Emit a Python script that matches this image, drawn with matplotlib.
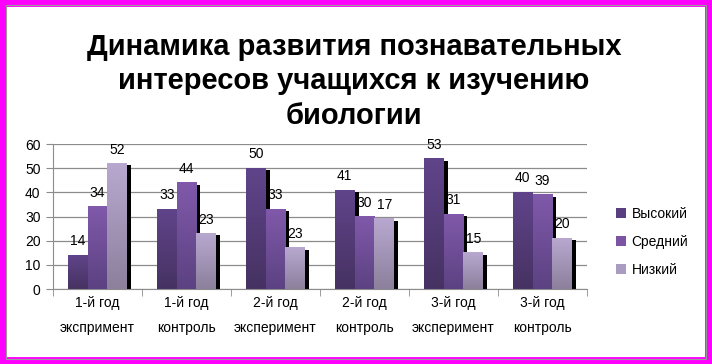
import numpy as np
import matplotlib
matplotlib.use('Agg')
import matplotlib.pyplot as plt
from matplotlib.colors import LinearSegmentedColormap
from matplotlib.patches import Rectangle, Patch

plt.rcParams['font.family'] = ['Liberation Sans', 'DejaVu Sans']

# Data
categories = ['1-й год\nэкспримент', '1-й год\nконтроль', '2-й год\nэксперимент',
              '2-й год\nконтроль', '3-й год\nэксперимент', '3-й год\nконтроль']
series = ['Высокий', 'Средний', 'Низкий']
# bar heights
high = [14, 33, 50, 41, 54, 40]
mid = [34, 44, 33, 30, 31, 39]
low = [52, 23, 17, 29, 15, 21]
# data labels as printed on the chart (some differ from the bars)
high_labels = [14, 33, 50, 41, 53, 40]
mid_labels = [34, 44, 33, 30, 31, 39]
low_labels = [52, 23, 23, 17, 15, 20]

values = [high, mid, low]
labels = [high_labels, mid_labels, low_labels]
# (top colour, bottom colour) for the gradient fill
colors = [('#60448a', '#463262'), ('#8059aa', '#5c4282'), ('#b8a8d0', '#8c809c')]
legend_colors = ['#5a3f80', '#7b55a3', '#aa9cc0']

fig = plt.figure(figsize=(7.12, 3.64), dpi=100)
fig.patch.set_facecolor('white')
fig.patches.append(Rectangle((0, 0), 1, 1, transform=fig.transFigure, fill=False,
                             edgecolor='#ff00ff', linewidth=10, zorder=10))
fig.patches.append(Rectangle((0.0085, 0.0135), 0.983, 0.973, transform=fig.transFigure,
                             fill=False, edgecolor='#999999', linewidth=0.8, zorder=10))

fig.text(0.497, 0.777, 'Динамика развития познавательных\nинтересов учащихся к изучению\nбиологии',
         ha='center', va='center', fontsize=21, fontweight='bold', linespacing=1.3)

ax = fig.add_axes([0.0744, 0.206, 0.75, 0.398])
x = np.arange(len(categories))
w = 0.222
offsets = [-w, 0, w]

for k in range(3):
    for i in range(len(categories)):
        x0 = x[i] + offsets[k] - w / 2
        h = values[k][i]
        # shadow
        ax.add_patch(Rectangle((x0 + 0.045, 0), w, h - 0.8, facecolor='black',
                               edgecolor='none', zorder=1))
for k in range(3):
    cmap = LinearSegmentedColormap.from_list('g%d' % k, [colors[k][1], colors[k][0]])
    grad = np.linspace(0, 1, 64).reshape(-1, 1)
    for i in range(len(categories)):
        x0 = x[i] + offsets[k] - w / 2
        h = values[k][i]
        ax.imshow(grad, cmap=cmap, origin='lower', aspect='auto',
                  extent=[x0, x0 + w, 0, h], zorder=2 + k)
        ax.annotate(str(labels[k][i]), (x[i] + offsets[k], h), xytext=(0, 5),
                    textcoords='offset points', ha='center', va='bottom',
                    fontsize=10, zorder=6)

ax.set_xlim(-0.5, len(categories) - 0.5)
ax.set_ylim(0, 60)
ax.set_yticks(range(0, 61, 10))
ax.yaxis.grid(True, color='#8c8c8c', linewidth=0.9)
ax.set_axisbelow(True)
ax.set_xticks(x)
ax.set_xticklabels(categories, fontsize=10, linespacing=2.0)
ax.set_xticks(np.arange(-0.5, len(categories)), minor=True)
ax.tick_params(axis='x', which='major', length=0, pad=5)
ax.tick_params(axis='x', which='minor', length=5, color='#8c8c8c', direction='out')
ax.tick_params(axis='y', length=5, color='#8c8c8c', labelsize=10, pad=4)
for s in ['top', 'right']:
    ax.spines[s].set_visible(False)
ax.spines['left'].set_color('#8c8c8c')
ax.spines['bottom'].set_color('#8c8c8c')

handles = [Patch(facecolor=c, edgecolor='none') for c in legend_colors]
fig.legend(handles, series, loc='center left', bbox_to_anchor=(0.847, 0.336),
           frameon=False, fontsize=10, handlelength=0.75, handleheight=0.75,
           handletextpad=0.4, labelspacing=1.0)

fig.savefig('out.png', dpi=100)
